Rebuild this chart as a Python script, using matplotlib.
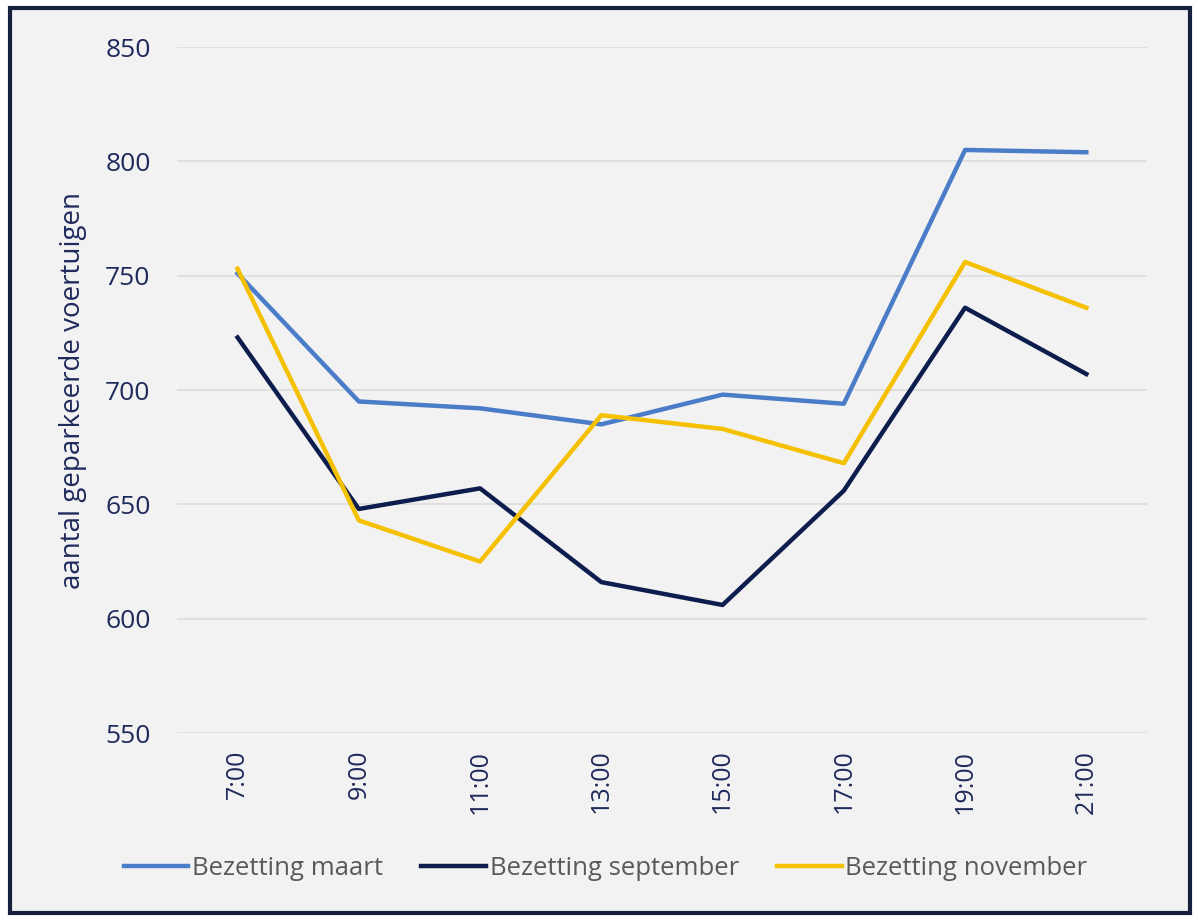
import matplotlib
matplotlib.use("Agg")
import matplotlib.pyplot as plt
from matplotlib.patches import Rectangle

hours = ["7:00", "9:00", "11:00", "13:00", "15:00", "17:00", "19:00", "21:00"]
maart = [751, 695, 692, 685, 698, 694, 805, 804]
september = [723, 648, 657, 616, 606, 656, 736, 707]
november = [753, 643, 625, 689, 683, 668, 756, 736]
y_ticks = [550, 600, 650, 700, 750, 800, 850]

NAVY = "#1f2a5c"
plt.rcParams["font.family"] = ["Open Sans", "DejaVu Sans"]

fig = plt.figure(figsize=(11.98, 9.21), dpi=100)
fig.patch.set_facecolor("white")
# grey panel with a dark frame, behind the axes
panel = Rectangle((10 / 1198, 8 / 921), 1180 / 1198, 905 / 921,
                  transform=fig.transFigure, facecolor="#f2f2f2",
                  edgecolor="#15213f", linewidth=3, zorder=-10)
fig.add_artist(panel)

ax = fig.add_axes([0.1477, 0.2041, 0.8097, 0.7448])
ax.set_facecolor("none")
x = list(range(len(hours)))
ax.plot(x, maart, color="#4a7cc8", lw=3.2, label="Bezetting maart")
ax.plot(x, september, color="#0d1d4d", lw=3.2, label="Bezetting september")
ax.plot(x, november, color="#f5c000", lw=3.2, label="Bezetting november")

ax.set_ylim(550, 850)
ax.set_xlim(-0.5, 7.5)
ax.set_yticks(y_ticks)
ax.set_xticks(x)
ax.set_xticklabels(hours, rotation=90)
ax.tick_params(length=0, labelsize=18, colors=NAVY)
ax.tick_params(axis="x", pad=12)
ax.tick_params(axis="y", pad=19, labelsize=19)
ax.grid(axis="y", color="#dcdcdc", lw=1.2)
ax.set_axisbelow(True)
for s in ax.spines.values():
    s.set_visible(False)
ax.set_ylabel("aantal geparkeerde voertuigen", fontsize=20, color=NAVY)
ax.yaxis.set_label_coords(-0.093, 0.5)

ax.legend(loc="center", bbox_to_anchor=(0.442, -0.197), ncol=3, frameon=False,
          fontsize=18.5, labelcolor="#595959", handlelength=2.5, handletextpad=0.15,
          columnspacing=1.5)

fig.savefig("out.png", dpi=100)
